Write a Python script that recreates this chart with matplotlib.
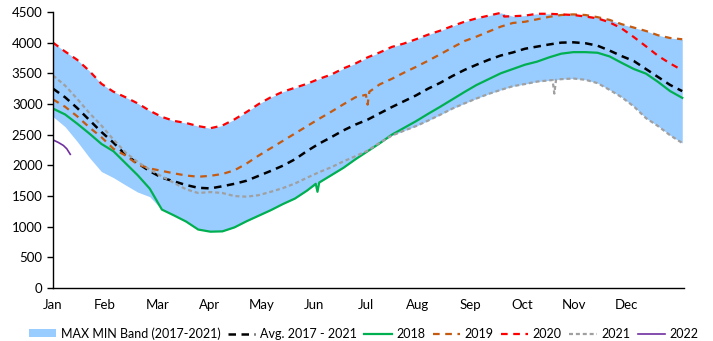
import numpy as np
import pandas as pd
import matplotlib
matplotlib.use("Agg")
import matplotlib.pyplot as plt

plt.rcParams['font.family'] = ['Lato', 'DejaVu Sans']

# weekly readings, day of year 0, 7, ..., 364
days = np.arange(0, 365, 7)
months = ['Jan', 'Feb', 'Mar', 'Apr', 'May', 'Jun', 'Jul', 'Aug', 'Sep', 'Oct', 'Nov', 'Dec']

avg = [3250, 3110, 2935, 2740, 2545, 2370, 2170, 2035, 1905, 1800, 1740, 1680, 1635, 1625,
       1660, 1700, 1750, 1830, 1910, 1995, 2100, 2235, 2355, 2460, 2570, 2665, 2745, 2848,
       2950, 3045, 3140, 3250, 3345, 3455, 3555, 3640, 3720, 3790, 3840, 3900, 3935, 3970,
       4000, 4005, 3990, 3950, 3870, 3780, 3700, 3570, 3440, 3310, 3210]
y2018 = [2925, 2830, 2680, 2520, 2350, 2230, 2035, 1840, 1620, 1280, 1185, 1085, 955, 920,
         925, 990, 1090, 1180, 1270, 1370, 1460, 1590, 1720, 1840, 1960, 2100, 2230, 2360,
         2500, 2610, 2720, 2840, 2955, 3075, 3195, 3310, 3405, 3500, 3570, 3640, 3690, 3760,
         3820, 3845, 3845, 3835, 3775, 3670, 3570, 3495, 3360, 3210, 3100]
y2019 = [3075, 2955, 2800, 2620, 2460, 2270, 2160, 2015, 1950, 1910, 1870, 1835, 1815, 1830,
         1860, 1920, 2030, 2160, 2280, 2400, 2520, 2640, 2760, 2875, 2995, 3110, 3210, 3320,
         3410, 3510, 3605, 3705, 3810, 3920, 4025, 4098, 4180, 4260, 4320, 4340, 4380, 4420,
         4450, 4460, 4450, 4415, 4370, 4300, 4245, 4190, 4120, 4075, 4055]
y2020 = [4000, 3855, 3720, 3540, 3330, 3200, 3110, 3010, 2890, 2790, 2725, 2690, 2640, 2605,
         2650, 2750, 2870, 3000, 3110, 3200, 3265, 3330, 3410, 3480, 3580, 3660, 3760, 3840,
         3930, 3985, 4055, 4130, 4195, 4270, 4340, 4395, 4440, 4485, 4430, 4440, 4470, 4470,
         4460, 4450, 4425, 4395, 4330, 4230, 4090, 3940, 3785, 3660, 3550]
y2021 = [3465, 3300, 3085, 2855, 2650, 2420, 2210, 2055, 1930, 1820, 1715, 1610, 1550, 1565,
         1550, 1500, 1490, 1515, 1570, 1630, 1705, 1800, 1890, 1970, 2065, 2150, 2240, 2370,
         2485, 2565, 2640, 2730, 2825, 2925, 3010, 3090, 3165, 3230, 3290, 3325, 3365, 3385,
         3405, 3415, 3395, 3340, 3230, 3110, 2960, 2770, 2640, 2490, 2365]
# 2017 is only seen where it is the floor of the band (Jan - early Mar)
y2017 = [2795, 2630, 2390, 2130, 1900, 1800, 1680, 1565, 1490, 1400] + [np.nan] * 43

y2022_days = [0, 3, 6, 8, 10]
y2022 = [2415, 2375, 2325, 2270, 2180]

# one-day blips in the daily data
blip_2018 = {152: 1700, 153: 1570, 154: 1720}
blip_2019 = {181: 3150, 182: 2990, 183: 3200}
blip_2020 = {260: 4490, 261: 4425}
blip_2021 = {289: 3390, 290: 3170, 291: 3395}


def with_blips(vals, blips):
    s = pd.Series(vals, index=days, dtype=float)
    s = pd.concat([s, pd.Series(blips, dtype=float)])
    s = s[~s.index.duplicated(keep='last')].sort_index()
    return s.index.values, s.values


years = np.vstack([y2017, y2018, y2019, y2020, y2021]).astype(float)
band_lo = np.nanmin(years, axis=0)
band_hi = np.nanmax(years, axis=0)

fig = plt.figure(figsize=(7.13, 3.41), dpi=100)
ax = fig.add_axes([0.0743, 0.155, 0.885, 0.81])

ax.fill_between(days, band_lo, band_hi, color='#99CCFF', lw=0, label='MAX MIN Band (2017-2021)')
ax.plot(days, avg, color='black', lw=1.8, dashes=(3, 2.2), label='Avg. 2017 - 2021')
ax.plot(*with_blips(y2018, blip_2018), color='#00B050', lw=1.6, label='2018')
ax.plot(*with_blips(y2019, blip_2019), color='#C55A11', lw=1.6, dashes=(3, 2.5), label='2019')
ax.plot(*with_blips(y2020, blip_2020), color='#FF0000', lw=1.6, dashes=(3, 2.5), label='2020')
ax.plot(*with_blips(y2021, blip_2021), color='#A0A0A0', lw=1.6, dashes=(1.8, 1.3), label='2021')
ax.plot(y2022_days, y2022, color='#7030A0', lw=1.2, label='2022')

ax.set_xlim(0, 365)
ax.set_ylim(0, 4500)
ax.set_yticks(np.arange(0, 4501, 500))
ax.set_xticks(np.arange(12) * 30.15)
ax.set_xticklabels(months)
ax.tick_params(axis='x', length=0, pad=8, labelsize=9.5)
ax.tick_params(axis='y', length=4, width=1, labelsize=9.5)
for s in ['top', 'right']:
    ax.spines[s].set_visible(False)
for s in ['left', 'bottom']:
    ax.spines[s].set_color('black')
    ax.spines[s].set_linewidth(1)

fig.legend(loc='center', bbox_to_anchor=(0.51, 0.022), ncol=7, frameon=False,
           fontsize=9, handlelength=2.2, handleheight=0.6, handletextpad=0.35,
           columnspacing=0.6, borderpad=0.2)

fig.savefig('out.png', dpi=100)
